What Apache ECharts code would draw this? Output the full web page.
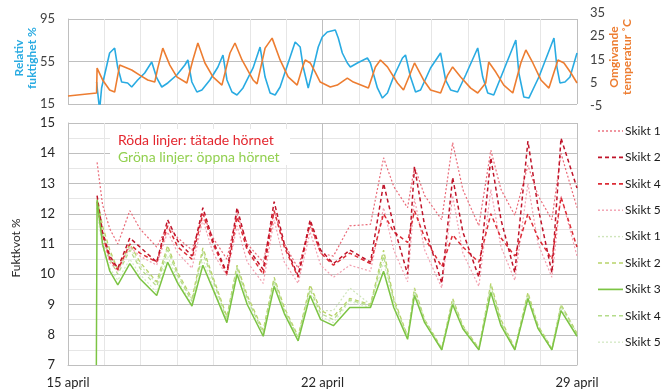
<!DOCTYPE html>
<html>
<head>
<meta charset="utf-8">
<script src="https://cdn.jsdelivr.net/npm/echarts@6/dist/echarts.min.js"></script>
<style>
html, body { margin: 0; padding: 0; background: #fff; }
#chart { width: 661px; height: 391px; }
</style>
</head>
<body>
<div id="chart"></div>
<script>
// x = dagar efter 15 april
var xTickDays = [0, 7, 14];
var xTickLabels = ['15 april', '22 april', '29 april'];

// övre diagram: relativ fuktighet (%)
var rhDays = [0.786, 0.869, 0.924, 1.145, 1.283, 1.366, 1.476, 1.641, 1.752, 1.917, 2.110, 2.303, 2.441, 2.579, 2.745, 2.993, 3.214, 3.297, 3.407, 3.545, 3.683, 3.903, 4.124, 4.262, 4.372, 4.510, 4.648, 4.814, 5.090, 5.283, 5.421, 5.559, 5.697, 5.834, 6.055, 6.248, 6.386, 6.469, 6.607, 6.745, 6.883, 6.993, 7.131, 7.352, 7.434, 7.545, 7.683, 7.766, 7.959, 8.234, 8.317, 8.510, 8.648, 8.786, 8.952, 9.200, 9.283, 9.421, 9.559, 9.697, 9.972, 10.248, 10.386, 10.524, 10.717, 10.938, 11.269, 11.407, 11.545, 11.710, 11.986, 12.317, 12.400, 12.538, 12.676, 12.952, 13.366, 13.448, 13.531, 13.669, 13.807, 14.0];
var rhValues = [35.7, 9.4, 30.1, 63.0, 67.7, 49.8, 35.7, 34.8, 31.0, 37.6, 44.2, 54.5, 39.5, 31.0, 34.8, 42.3, 51.7, 56.4, 35.7, 26.3, 28.2, 37.6, 49.8, 61.1, 37.6, 26.3, 23.5, 30.1, 48.9, 68.6, 40.4, 25.4, 23.5, 31.0, 53.6, 73.4, 68.6, 49.8, 30.1, 48.9, 68.6, 78.1, 82.8, 84.6, 77.1, 63.0, 53.6, 49.8, 53.6, 58.3, 53.6, 30.1, 20.6, 25.4, 40.4, 58.3, 61.1, 40.4, 26.3, 28.2, 48.9, 63.0, 37.6, 28.2, 26.3, 42.3, 67.7, 40.4, 25.4, 23.5, 47.0, 75.2, 44.2, 21.6, 20.6, 40.4, 77.1, 49.8, 34.8, 35.7, 40.4, 63.0];
// övre diagram: omgivande temperatur (°C)
var tempDays = [0, 0.786, 0.80, 0.952, 1.145, 1.283, 1.421, 1.752, 1.972, 2.193, 2.386, 2.469, 2.607, 2.800, 2.993, 3.269, 3.434, 3.572, 3.766, 3.986, 4.234, 4.455, 4.593, 4.786, 5.090, 5.200, 5.421, 5.614, 5.834, 6.055, 6.303, 6.441, 6.524, 6.662, 6.800, 6.938, 7.214, 7.407, 7.683, 7.848, 8.262, 8.455, 8.593, 8.786, 9.062, 9.228, 9.421, 9.531, 9.779, 9.972, 10.248, 10.441, 10.579, 10.800, 11.076, 11.269, 11.490, 11.572, 11.766, 11.986, 12.234, 12.455, 12.593, 12.786, 13.007, 13.228, 13.476, 13.641, 13.834, 14.0];
var tempValues = [-0.7, 0.6, 11.3, 6.2, 1.9, 1.0, 12.6, 10.5, 8.3, 6.2, 5.3, 11.3, 19.9, 12.6, 7.5, 4.9, 14.8, 22.1, 13.5, 7.5, 4.0, 17.8, 22.1, 14.8, 6.2, 4.5, 19.9, 24.2, 14.8, 7.5, 4.0, 11.3, 14.8, 13.5, 9.6, 5.3, 3.2, 4.0, 7.0, 5.3, 2.7, 11.8, 14.8, 11.8, 4.9, 1.9, 9.2, 13.5, 6.2, 1.9, 0.6, 8.3, 11.8, 7.5, 2.7, 0.6, 4.9, 13.9, 9.6, 4.0, 0.6, 13.5, 19.1, 13.5, 6.2, 2.7, 14.8, 13.5, 9.2, 4.9];

// nedre diagram: fuktkvot (%)
var kvDays = [0.78, 0.80, 0.95, 1.15, 1.37, 1.70, 1.98, 2.44, 2.74, 3.02, 3.41, 3.71, 3.99, 4.37, 4.65, 4.93, 5.37, 5.67, 5.95, 6.33, 6.66, 6.95, 7.30, 7.75, 8.32, 8.68, 8.96, 9.34, 9.53, 9.81, 10.28, 10.58, 10.86, 11.30, 11.63, 11.91, 12.29, 12.65, 12.93, 13.31, 13.56, 14.00];
// röda linjer: tätade hörnet
var redSkikt1 = [null, 13.7, 12.3, 11.5, 11.0, 12.1, 11.5, 10.9, 11.6, 11.2, 10.8, 12.0, 11.2, 10.5, 12.0, 11.0, 10.4, 12.1, 11.0, 10.2, 11.6, 10.7, 10.6, 11.6, 11.65, 13.85, 12.9, 12.2, 13.55, 12.6, 11.8, 14.35, 12.8, 11.6, 14.1, 12.8, 11.95, 13.6, 12.6, 11.8, 14.0, 12.2];
var redSkikt2 = [null, 12.6, 11.4, 10.6, 10.2, 11.2, 10.9, 10.4, 11.8, 11.1, 10.6, 12.2, 11.1, 10.05, 12.2, 10.9, 10.15, 12.4, 11.0, 9.95, 11.8, 10.8, 10.35, 10.8, 10.4, 13.0, 11.6, 10.0, 13.55, 11.6, 9.7, 13.2, 11.4, 9.9, 13.85, 11.8, 10.05, 14.4, 12.2, 10.05, 14.5, 12.85];
var redSkikt4 = [null, 12.4, 11.3, 10.5, 10.15, 11.0, 10.7, 10.4, 11.6, 10.9, 10.5, 12.0, 11.0, 10.0, 11.9, 10.8, 10.0, 12.1, 10.9, 9.9, 11.7, 10.7, 10.3, 10.7, 10.35, 12.0, 11.4, 11.05, 12.1, 11.2, 10.25, 11.3, 10.9, 10.4, 12.0, 11.2, 10.6, 12.0, 11.2, 10.5, 12.55, 10.9];
var redSkikt5 = [null, 12.2, 11.1, 10.4, 10.1, 10.9, 10.6, 10.3, 11.4, 10.7, 10.2, 11.8, 10.7, 9.95, 11.6, 10.4, 9.7, 11.8, 10.4, 9.7, 11.4, 10.3, 9.9, 10.3, 10.1, 12.2, 10.8, 9.75, 12.5, 10.8, 9.55, 12.6, 10.7, 9.6, 12.8, 10.9, 9.8, 13.0, 11.0, 9.9, 12.6, 10.6];
// gröna linjer: öppna hörnet
var greenSkikt1 = [null, 12.2, 11.4, 10.7, 10.1, 10.9, 10.3, 9.7, 10.9, 10.0, 9.15, 10.8, 9.85, 8.55, 10.25, 9.25, 8.1, 9.85, 8.85, 7.9, 9.6, 8.8, 8.8, 9.55, 9.0, 10.7, 9.15, 7.95, 9.5, 8.5, 7.55, 9.15, 8.3, 7.55, 9.65, 8.45, 7.55, 9.35, 8.3, 7.55, 9.0, 8.05];
var greenSkikt2 = [null, 12.5, 11.6, 10.8, 10.15, 11.0, 10.4, 9.75, 10.95, 10.05, 9.2, 10.87, 9.9, 8.6, 10.3, 9.3, 8.15, 9.9, 8.9, 7.95, 9.65, 8.8, 8.6, 9.2, 9.0, 10.8, 9.2, 7.95, 9.55, 8.5, 7.55, 9.2, 8.3, 7.55, 9.7, 8.5, 7.55, 9.4, 8.3, 7.55, 9.0, 8.05];
var greenSkikt3 = [7.0, 12.45, 11.0, 10.1, 9.65, 10.35, 9.85, 9.3, 10.4, 9.7, 8.95, 10.3, 9.5, 8.4, 10.0, 9.0, 7.95, 9.6, 8.7, 7.8, 9.3, 8.5, 8.3, 8.9, 8.9, 10.1, 8.9, 7.85, 9.3, 8.4, 7.5, 9.0, 8.2, 7.5, 9.4, 8.3, 7.5, 9.2, 8.2, 7.5, 8.8, 7.95];
var greenSkikt4 = [null, 12.3, 11.3, 10.5, 10.0, 10.8, 10.2, 9.6, 10.8, 9.95, 9.1, 10.7, 9.8, 8.5, 10.2, 9.2, 8.05, 9.8, 8.8, 7.9, 9.5, 8.7, 8.5, 9.15, 8.95, 10.6, 9.1, 7.9, 9.45, 8.45, 7.5, 9.1, 8.25, 7.5, 9.6, 8.4, 7.5, 9.3, 8.25, 7.5, 8.95, 8.0];
var greenSkikt5 = [null, 12.0, 10.9, 10.2, 9.8, 10.5, 10.0, 9.4, 10.6, 9.8, 9.0, 10.5, 9.6, 8.45, 10.1, 9.1, 8.0, 9.7, 8.75, 7.85, 9.4, 8.6, 8.4, 9.1, 8.9, 10.4, 9.0, 7.9, 9.4, 8.45, 7.5, 9.1, 8.25, 7.5, 9.5, 8.35, 7.5, 9.25, 8.2, 7.5, 8.9, 7.95];

var font = 'Lato, "Open Sans", sans-serif';
var gridColor = '#bfbfbf';
var minorColor = '#e6e6e6';

// namn, färg, streck, bredd, värden
var legendItems = [
  ['Skikt 1', '#ea6a78', [2, 2], 1.2, redSkikt1],
  ['Skikt 2', '#c0142a', [4, 3], 1.5, redSkikt2],
  ['Skikt 4', '#dc2c36', [4, 3], 1.5, redSkikt4],
  ['Skikt 5', '#f2a0b0', [2, 2], 1.2, redSkikt5],
  ['Skikt 1', '#cfe5bb', [2, 2], 1.2, greenSkikt1],
  ['Skikt 2', '#b8d36a', [4, 3], 1.3, greenSkikt2],
  ['Skikt 3', '#7cc443', 'solid', 1.5, greenSkikt3],
  ['Skikt 4', '#b4dc8a', [4, 3], 1.3, greenSkikt4],
  ['Skikt 5', '#d6eac8', [2, 2], 1.2, greenSkikt5]
];

function pairs(days, vals) {
  var out = [];
  for (var i = 0; i < days.length; i++) {
    if (vals[i] != null) out.push([days[i], vals[i]]);
  }
  return out;
}

function kvSeries(item, idx) {
  return {
    name: item[0] + (idx > 3 ? ' ' : ''),
    type: 'line',
    xAxisIndex: 1,
    yAxisIndex: 2,
    symbol: 'none',
    z: idx === 6 ? 3 : 2,
    data: pairs(kvDays, item[4]),
    lineStyle: { color: item[1], type: item[2], width: item[3] }
  };
}

// gröna först, röda ovanpå
var kvSeriesList = [];
[4, 5, 7, 8, 6, 3, 0, 2, 1].forEach(function (i) {
  kvSeriesList.push(kvSeries(legendItems[i], i));
});

var legendGraphics = [];
legendItems.forEach(function (it, i) {
  var y = 131 + i * 26.4;
  legendGraphics.push({
    type: 'line', silent: true,
    shape: { x1: 598, y1: y, x2: 623, y2: y },
    style: { stroke: it[1], lineWidth: it[3] + 0.2, lineDash: it[2] === 'solid' ? null : it[2] }
  });
  legendGraphics.push({
    type: 'text', silent: true, x: 625, y: y,
    style: { text: it[0], fill: '#1a1a1a', font: '12px ' + font, textVerticalAlign: 'middle' }
  });
});

var myChart = echarts.init(document.getElementById('chart'));
var option = {
  animation: false,
  textStyle: { fontFamily: font },
  grid: [
    { left: 68, right: 84, top: 19, height: 85 },
    { left: 68, right: 84, top: 123, height: 242 },
    { left: 68, right: 84, top: 13, height: 93 }
  ],
  xAxis: [
    {
      gridIndex: 0, type: 'value', min: 0, max: 14, interval: 7,
      axisLine: { show: false }, axisTick: { show: false }, axisLabel: { show: false },
      splitLine: { show: true, lineStyle: { color: gridColor } },
      minorTick: { show: false, splitNumber: 7 },
      minorSplitLine: { show: true, lineStyle: { color: minorColor } }
    },
    {
      gridIndex: 1, type: 'value', min: 0, max: 14, interval: 7,
      axisLine: { show: true, lineStyle: { color: gridColor } },
      axisTick: { show: false },
      axisLabel: {
        color: '#262626', fontSize: 13, margin: 11,
        formatter: function (v) { return xTickLabels[xTickDays.indexOf(v)] || ''; }
      },
      splitLine: { show: true, lineStyle: { color: gridColor } },
      minorTick: { show: false, splitNumber: 7 },
      minorSplitLine: { show: true, lineStyle: { color: minorColor } }
    },
    {
      gridIndex: 2, type: 'value', min: 0, max: 14, show: false
    }
  ],
  yAxis: [
    {
      gridIndex: 0, type: 'value', min: 15, max: 95, interval: 40,
      axisLine: { show: true, lineStyle: { color: gridColor } },
      axisTick: { show: false },
      axisLabel: { color: '#404040', fontSize: 13, margin: 13 },
      splitLine: { show: true, lineStyle: { color: gridColor } }
    },
    {
      gridIndex: 2, type: 'value', position: 'right', min: -5, max: 35, interval: 10,
      axisLine: { show: false },
      axisTick: { show: false },
      axisLabel: { color: '#404040', fontSize: 13, margin: 13 },
      splitLine: { show: false }
    },
    {
      gridIndex: 1, type: 'value', min: 7, max: 15, interval: 1,
      axisLine: { show: true, lineStyle: { color: gridColor } },
      axisTick: { show: false },
      axisLabel: { color: '#262626', fontSize: 13, margin: 13 },
      splitLine: { show: true, lineStyle: { color: gridColor } },
      minorTick: { show: false, splitNumber: 2 },
      minorSplitLine: { show: true, lineStyle: { color: minorColor } }
    }
  ],
  graphic: [
    {
      type: 'text', x: 26, y: 58, rotation: Math.PI / 2,
      style: { text: 'Relativ\nfuktighet %', fill: '#29abe2', font: 'bold 12px ' + font, textAlign: 'center', textVerticalAlign: 'middle', lineHeight: 13 }
    },
    {
      type: 'text', x: 621, y: 57, rotation: Math.PI / 2,
      style: { text: 'Omgivande\ntemperatur ˚C', fill: '#ed7d31', font: 'bold 12px ' + font, textAlign: 'center', textVerticalAlign: 'middle', lineHeight: 13 }
    },
    {
      type: 'text', x: 16, y: 248, rotation: Math.PI / 2,
      style: { text: 'Fuktkvot %', fill: '#262626', font: '12px ' + font, textAlign: 'center', textVerticalAlign: 'middle' }
    },
    {
      type: 'rect', z: 10, silent: true,
      shape: { x: 110, y: 129, width: 180, height: 36 },
      style: { fill: '#fff' }
    },
    {
      type: 'text', z: 11, x: 118, y: 140,
      style: { text: 'Röda linjer: tätade hörnet', fill: '#e3262e', font: '14px ' + font, textVerticalAlign: 'middle' }
    },
    {
      type: 'text', z: 11, x: 118, y: 157,
      style: { text: 'Gröna linjer: öppna hörnet', fill: '#92d050', font: '14px ' + font, textVerticalAlign: 'middle' }
    }
  ].concat(legendGraphics),
  series: [
    {
      name: 'Relativ fuktighet', type: 'line', xAxisIndex: 0, yAxisIndex: 0, symbol: 'none',
      data: pairs(rhDays, rhValues), lineStyle: { color: '#29abe2', width: 1.6 }
    },
    {
      name: 'Omgivande temperatur', type: 'line', xAxisIndex: 2, yAxisIndex: 1, symbol: 'none',
      data: pairs(tempDays, tempValues), lineStyle: { color: '#ed7d31', width: 1.6 }
    }
  ].concat(kvSeriesList)
};
myChart.setOption(option);
</script>
</body>
</html>
